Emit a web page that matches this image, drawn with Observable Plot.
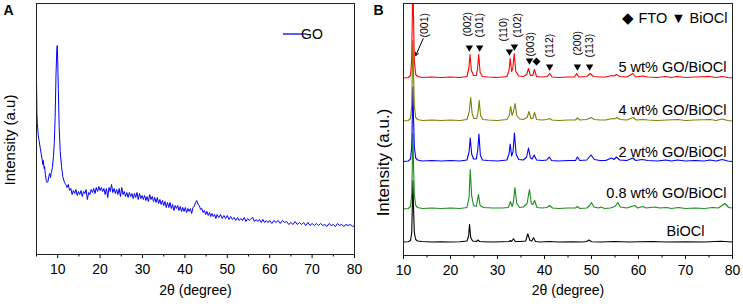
<!DOCTYPE html>
<html><head><meta charset="utf-8">
<script src="https://cdn.jsdelivr.net/npm/d3@7"></script>
<script src="https://cdn.jsdelivr.net/npm/@observablehq/plot@0.6"></script>
<style>
body{margin:0;background:#fff;}
#wrap{display:flex;width:743px;height:306px;overflow:hidden;}
#wrap svg{display:block;}
</style></head><body><div id="wrap"></div>
<script>
// ---------- Panel A: GO pattern (2θ, intensity a.u.) ----------
const goPattern = [
[5.0,176],[5.1,140],[5.2,131],[5.4,120],[5.6,114],[5.9,106],[6.1,101],[6.3,96],[6.5,90],[6.6,94],[6.8,86],[6.9,88],[7.1,80],[7.3,74],[7.5,72],[7.7,73],[7.9,78],[8.1,81],[8.3,77],[8.5,82],[8.75,87],[9.0,98],[9.2,112],[9.4,137],[9.6,180],[9.8,206],[9.9,209],[10.0,195],[10.15,165],[10.35,127],[10.6,103],[10.9,88],[11.2,78],[11.6,72],[11.9,70],
[12.2,67],[12.5,70],[12.8,64],[13.1,66],[13.4,60],[13.7,64],[14.0,61],[14.3,65],[14.6,59],[14.9,63],[15.2,60],[15.5,64],[15.8,58],[16.1,63],[16.4,61],[16.7,65],[17.0,55],[17.3,62],[17.6,60],[17.9,65],[18.2,62],[18.5,66],[18.8,61],[19.1,67],[19.4,63],[19.7,68],[20.0,64],[20.3,67],[20.6,63],[20.9,66],[21.2,60],[21.5,66],[21.8,57],[22.1,67],[22.4,63],[22.7,70],[23.0,62],[23.3,66],[23.6,61],[23.9,65],[24.2,60],[24.5,66],[24.8,58],[25.1,67],[25.4,60],[25.7,63],[26.0,58],[26.3,62],[26.6,57],[26.9,62],[27.2,58],[27.5,61],[27.8,56],[28.1,61],[28.4,57],[28.7,62],[29.0,55],[29.3,61],[29.6,56],[29.9,59],[30.2,55],[30.5,59],[30.8,54],[31.1,58],[31.4,53],[31.7,60],[32.0,55],[32.3,58],[32.6,53],[32.9,57],[33.2,52],[33.5,57],[33.8,51],[34.1,55],[34.4,50],[34.7,54],[35.0,49],[35.3,53],[35.6,47],[35.9,52],[36.2,47],[36.5,52],[36.8,46],[37.1,50],[37.4,44],[37.7,49],[38.0,46],[38.3,49],[38.6,44],[38.9,48],[39.2,43],[39.5,47],[39.8,43],[40.1,47],[40.4,42],[40.7,46],[41.0,43],[41.3,46],[41.6,41],[41.9,47],[42.2,48],[42.5,52],[42.8,54],[43.1,50],[43.4,49],[43.7,45],[44.0,46],[44.3,42],[44.6,44],[44.9,40],[45.2,43],[45.5,39],[45.8,42],[46.1,38],[46.4,41],[46.7,38],[47.0,40],[47.3,36],[47.6,40],[48.0,37],[48.4,40],[48.8,36],[49.2,39],[49.6,36],[50.0,39],[50.4,35],[50.8,38],[51.2,35],[51.6,37],[52.0,34],[52.4,37],[52.8,34],[53.2,36],[53.6,34],[54.0,37],[54.4,33],[54.8,36],[55.2,34],[55.6,36],[56.0,37],[56.4,33],[56.8,35],[57.2,33],[57.6,35],[58.0,32],[58.4,35],[58.8,32],[59.2,34],[59.6,32],[60.0,34],[60.5,31],[61.0,34],[61.5,32],[62.0,34],[62.5,31],[63.0,34],[63.5,32],[64.0,33],[64.5,30],[65.0,32],[65.5,30],[66.0,33],[66.5,30],[67.0,32],[67.5,30],[68.0,32],[68.5,29],[69.0,32],[69.5,29],[70.0,31],[70.5,29],[71.0,31],[71.5,29],[72.0,31],[72.5,29],[73.0,30],[73.5,28],[74.0,31],[74.5,29],[75.0,30],[75.5,28],[76.0,31],[76.5,29],[77.0,30],[77.5,28],[78.0,30],[78.5,29],[79.0,30],[79.5,28],[80.0,29]
];
const majorTicksA = [10,20,30,40,50,60,70,80];
const minorTicksA = [5,15,25,35,45,55,65,75];

// ---------- Panel B: stacked patterns (2θ, intensity above own baseline) ----------
const seriesNames = ["BiOCl","0.8 wt% GO/BiOCl","2 wt% GO/BiOCl","4 wt% GO/BiOCl","5 wt% GO/BiOCl"];
const seriesOffsets = [13, 46, 93.5, 134, 177];
const patBiOCl = [
[10,0.5],[11,0.8],[11.5,2],[11.75,10],[11.9,40],[12.0,62],[12.1,40],[12.3,10],[12.6,3],[13,1.5],[14,1],[16,0.5],[18,0.8],[20,0.5],[22,0.8],[23.5,1.5],[23.85,6],[24.05,18],[24.3,5],[24.7,1.5],[25.5,1],[25.85,2.5],[26.2,1],[27,0.8],[29,0.5],[31,0.8],[32.5,1],[32.75,2],[33,1],[33.4,3.7],[33.8,1],[35,1],[36,1.5],[36.45,8.7],[36.9,2],[37.3,1.5],[37.65,4.7],[38.1,1],[39,0.5],[41,1],[43,0.5],[46,0.8],[48,0.5],[49,1],[49.45,2.5],[50,0.8],[52,0.5],[55,1],[58,0.5],[60,0.8],[63,1],[66,0.5],[70,0.8],[74,0.5],[77.5,1.2],[80,0.5]
];
const pat08 = [
[10,0.5],[11,1],[11.5,3],[11.75,15],[11.9,50],[12.0,76],[12.1,50],[12.3,15],[12.6,4],[13,2],[14,1],[16,1.5],[18,1],[20,1.5],[22,1],[23.5,2],[23.95,12],[24.2,40],[24.5,14],[24.9,4],[25.5,3],[25.95,15],[26.3,4],[27,2],[29,1.5],[31,1.5],[32.3,2],[32.75,8],[33.1,3],[33.4,8],[33.7,22],[34.1,6],[34.7,2],[35.5,2.5],[36.3,6],[36.8,20],[37.2,6],[37.5,5],[37.9,9],[38.4,2],[39.5,1.5],[40.5,2],[41.1,4],[41.7,1.5],[43,1],[45,1.5],[46.6,1.5],[47,3],[47.5,1],[49,1.5],[49.6,4],[50,7],[50.5,2.5],[51.5,1.5],[52,2.5],[52.8,1],[54,1.5],[55,3],[55.6,7],[56.1,2.5],[57.5,1.5],[59.2,4],[59.8,1.5],[60.9,3],[61.6,1.5],[62.5,2],[63.6,2.5],[64.5,1.5],[66,2],[67,1],[68.5,2],[70,1],[72,1.5],[74,1],[75.8,2],[77,1.5],[78.4,6],[79.2,2],[80,1.5]
];
const pat2 = [
[10,0.5],[11,1],[11.5,3],[11.75,15],[11.9,50],[12.0,75],[12.1,50],[12.3,15],[12.6,4],[13,2],[14,1],[16,1.5],[18,1],[20,1.5],[22,1],[23.5,2],[23.95,10],[24.2,24],[24.5,8],[24.9,3],[25.5,3],[25.8,12],[26.05,28],[26.35,7],[26.8,2],[28,1.5],[30,1],[32,2],[32.45,8],[32.7,18],[33,6],[33.3,10],[33.6,29],[33.95,8],[34.5,2.5],[35.5,2],[36.2,5],[36.6,14],[37,4],[37.4,3],[37.8,7],[38.3,2],[39.5,1.5],[40.5,2],[41,5],[41.5,1.5],[43,1],[45,1.5],[46.6,1.5],[47,5],[47.5,1.5],[49,2],[49.9,7],[50.6,2.5],[51.8,1.5],[53,1.5],[54.3,4],[54.8,2.5],[55.3,5],[56,2],[57.5,1.5],[58.8,4],[59.4,1.5],[60.8,2.5],[62,1.5],[64,1],[65.8,2],[67,1],[68.3,2],[70,1],[72,1.5],[74,1],[75.2,2],[76.5,1],[77.8,2.5],[79,1],[80,0.5]
];
const pat4 = [
[10,0.5],[11,1],[11.5,3],[11.75,16],[11.9,55],[12.0,81],[12.1,55],[12.3,16],[12.6,4],[13,2],[14,1],[16,1.5],[18,1],[20,1.5],[22,1],[23.5,2],[24,10],[24.3,24],[24.6,8],[25,3],[25.6,3],[25.85,9],[26.1,21],[26.4,6],[26.9,2],[28,1.5],[30,1],[32,2],[32.5,6],[32.8,15],[33.1,6],[33.4,10],[33.75,18],[34.1,6],[34.7,2.5],[35.5,2],[36.3,4],[36.7,10],[37.1,3],[37.5,3],[37.9,9],[38.3,2],[39.5,1.5],[40.5,2],[41.1,3],[41.6,1.5],[43,1],[45,1.5],[46.6,1.5],[47,3.5],[47.5,1.5],[49,2],[49.9,4],[50.6,2],[51.8,1.5],[53,1.5],[54.4,3],[54.9,2.5],[55.4,4],[56.1,2],[57.5,1.5],[58.9,4],[59.5,1.5],[61,2],[62,1.5],[64,1],[66,1.5],[68.4,2],[70,1],[72,1.5],[75.3,2],[76.5,1],[77.8,2.5],[79,1],[80,0.5]
];
const pat5 = [
[10,0.5],[11,1],[11.5,3],[11.75,20],[11.9,70],[12.0,110],[12.1,70],[12.3,18],[12.6,4],[13,2],[14,1],[16,1.5],[18,1],[20,1.5],[22,1],[23.5,2],[23.9,10],[24.15,24],[24.45,8],[24.9,3],[25.5,3],[25.75,10],[26.0,24],[26.3,6],[26.8,2],[28,1.5],[30,1],[32,2],[32.45,8],[32.7,20],[33.0,7],[33.25,10],[33.55,25],[33.9,7],[34.5,2.5],[35.5,2],[36.2,4],[36.6,10],[37,3],[37.5,3],[37.85,9],[38.3,2],[39.5,1.5],[40.6,2],[41.1,5],[41.6,1.5],[43,1],[45,1.5],[46.4,1.5],[46.85,5],[47.3,1.5],[49,2],[49.7,5],[50.4,2],[51.8,1.5],[53,1.5],[54.3,3],[54.8,2.5],[55.3,4],[56,2],[57.5,1.5],[58.8,5],[59.4,1.5],[60.8,2.5],[62,1.5],[64,1],[65.8,2],[67,1],[68.2,2],[70,1],[72,1.5],[75,2],[76.5,1],[77.8,2],[79,1],[80,0.5]
];
const seriesPatterns = [patBiOCl, pat08, pat2, pat4, pat5];
const majorTicksB = [10,20,30,40,50,60,70,80];
const minorTicksB = [15,25,35,45,55,65,75];

// BiOCl reflections marked on the top pattern
const hklLabels = ["(002)","(101)","(110)","(102)","(003)","(112)","(200)","(113)"];
const hklTheta  = [24.0, 26.2, 32.55, 33.6, 36.8, 41.1, 47.0, 49.6];
const ftoTheta  = [38.3];

// ---------- layout / style (not data) ----------
const font = "'Liberation Sans', Arial, Helvetica, sans-serif";
const colors = ["#000000", "#1e8c1e", "#0000ff", "#808000", "#ff0000"];
const labelPos = {y: [24, 62, 103, 145, 188], x: [70, 78.7, 78.7, 78.7, 78.7], anchor: ["middle","end","end","end","end"]};
const hklMarkY = [207, 207, 203, 208, 194, 188, 188, 188];
const hklTextX = [23.6, 26.2, 31.4, 34.3, 37.0, 41.1, 47.0, 49.6];
const hklTextY = [219, 218, 214, 218, 199, 198, 200, 198];
const ftoMarkY = [194];

// marker symbols (filled down-triangle and square diamond)
const triDown = {draw(ctx, size) {
  const r = Math.sqrt(size / Math.PI);
  ctx.moveTo(-r, -0.8 * r); ctx.lineTo(r, -0.8 * r); ctx.lineTo(0, 0.9 * r); ctx.closePath();
}};
const diamond = {draw(ctx, size) {
  const r = Math.sqrt(size / Math.PI) * 1.05;
  ctx.moveTo(0, -r); ctx.lineTo(r, 0); ctx.lineTo(0, r); ctx.lineTo(-r, 0); ctx.closePath();
}};

// ---------- Panel A ----------
const goData = goPattern.map(([t, i]) => ({t, i}));
const legendA = (index, scales, values, dims) => {
  const g = d3.create("svg:g");
  const xr = dims.width - dims.marginRight;
  const y0 = dims.marginTop + 31;
  g.append("line").attr("x1", xr - 71).attr("x2", xr - 47).attr("y1", y0).attr("y2", y0)
    .attr("stroke", "#0000ff").attr("stroke-width", 1.3);
  g.append("text").attr("x", xr - 42).attr("y", y0).attr("dy", "0.36em")
    .attr("font-size", 14).attr("font-family", font).attr("fill", "black").text("GO");
  return g.node();
};
const plotA = Plot.plot({
  width: 370, height: 306,
  marginLeft: 36, marginRight: 16, marginTop: 3, marginBottom: 52,
  style: {fontFamily: font, fontSize: "14px", background: "white", color: "black", overflow: "visible"},
  x: {domain: [5, 80], label: null},
  y: {domain: [0, 251], axis: null},
  marks: [
    Plot.line(goData, {x: "t", y: "i", stroke: "#0000ff", strokeWidth: 1, clip: true}),
    Plot.frame({stroke: "#222", strokeWidth: 1}),
    Plot.axisX({ticks: majorTicksA, tickSize: 4, tickPadding: 6, label: null, fontSize: 14}),
    Plot.axisX({ticks: minorTicksA, tickSize: 2.5, tickFormat: () => "", label: null}),
    Plot.text(["2θ (degree)"], {text: d => d, frameAnchor: "bottom", lineAnchor: "top", dy: 31, fontSize: 14}),
    Plot.text(["Intensity (a.u)"], {text: d => d, frameAnchor: "left", textAnchor: "middle", rotate: -90, dx: -26, dy: 11, lineAnchor: "middle", fontSize: 15}),
    Plot.text(["A"], {text: d => d, frameAnchor: "top-left", dx: -33, dy: 2, lineAnchor: "top", textAnchor: "start", fontWeight: "bold", fontSize: 14}),
    legendA
  ]
});

// ---------- Panel B ----------
const linesB = seriesPatterns.map((pat, k) =>
  pat.map(([t, i]) => ({t, i: i + seriesOffsets[k], s: seriesNames[k]})));
const labelsB = seriesNames.map((name, k) => ({name, x: labelPos.x[k], y: labelPos.y[k], a: labelPos.anchor[k]}));
const hklB = hklLabels.map((lab, k) => ({lab, t: hklTheta[k], my: hklMarkY[k], tx: hklTextX[k], ty: hklTextY[k]}));
const ftoB = ftoTheta.map((t, k) => ({t, my: ftoMarkY[k]}));

const plotB = Plot.plot({
  width: 373, height: 306,
  marginLeft: 33, marginRight: 11, marginTop: 3, marginBottom: 51,
  style: {fontFamily: font, fontSize: "14px", background: "white", color: "black", overflow: "visible"},
  x: {domain: [10, 80], label: null},
  y: {domain: [0, 252], axis: null},
  marks: [
    ...linesB.map((d, k) => Plot.line(d, {x: "t", y: "i", stroke: colors[k], strokeWidth: 1.1, clip: true})),
    Plot.frame({stroke: "#222", strokeWidth: 1}),
    Plot.axisX({ticks: majorTicksB, tickSize: 4, tickPadding: 6, label: null, fontSize: 14}),
    Plot.axisX({ticks: minorTicksB, tickSize: 2.5, tickFormat: () => "", label: null}),
    Plot.text(["2θ (degree)"], {text: d => d, frameAnchor: "bottom", lineAnchor: "top", dy: 30, fontSize: 14}),
    Plot.text(["Intensity (a.u.)"], {text: d => d, frameAnchor: "left", textAnchor: "middle", rotate: -90, dx: -20, dy: 33, lineAnchor: "middle", fontSize: 17}),
    Plot.text(["B"], {text: d => d, frameAnchor: "top-left", dx: -30, dy: 2, lineAnchor: "top", textAnchor: "start", fontWeight: "bold", fontSize: 14}),
    ...labelsB.map(d => Plot.text([d], {x: "x", y: "y", text: "name", textAnchor: d.a, lineAnchor: "middle", fontSize: 14.5})),
    Plot.dot(hklB, {x: "t", y: "my", symbol: triDown, r: 3.7, fill: "black", stroke: null}),
    Plot.dot(ftoB, {x: "t", y: "my", symbol: diamond, r: 3.8, fill: "black", stroke: null}),
    Plot.text(hklB, {x: "tx", y: "ty", text: "lab", rotate: -90, textAnchor: "start", lineAnchor: "middle", fontSize: 10.5}),
    Plot.text(["(001)"], {x: 14.57, y: 218, text: d => d, rotate: -90, textAnchor: "start", lineAnchor: "middle", fontSize: 10.5}),
    Plot.arrow([{x1: 14.19, y1: 217, x2: 12.6, y2: 200}], {x1: "x1", y1: "y1", x2: "x2", y2: "y2", stroke: "black", strokeWidth: 1, headLength: 5}),
    Plot.text(["◆ FTO ▼ BiOCl"], {text: d => d, frameAnchor: "top-right", dx: -5, dy: 15, lineAnchor: "middle", textAnchor: "end", fontSize: 14.5})
  ]
});

const wrap = document.getElementById("wrap");
wrap.appendChild(plotA);
wrap.appendChild(plotB);
</script></body></html>
